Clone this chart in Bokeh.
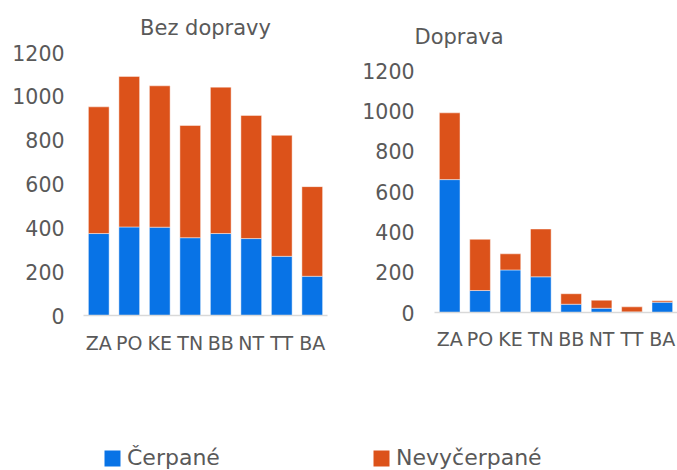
from bokeh.plotting import figure
from bokeh.layouts import column, row
from bokeh.models import FixedTicker, Legend, LegendItem, Range1d, ColumnDataSource
from bokeh.embed import file_html
from bokeh.resources import INLINE

categories = ["ZA", "PO", "KE", "TN", "BB", "NT", "TT", "BA"]
bez_cerpane = [374, 404, 403, 355, 374, 351, 270, 179]
bez_nevycerpane = [578, 687, 645, 512, 668, 562, 552, 409]
dop_cerpane = [659, 109, 211, 177, 41, 21, 3, 51]
dop_nevycerpane = [331, 254, 80, 237, 52, 40, 25, 7]
y_ticks = [0, 200, 400, 600, 800, 1000, 1200]
series_names = ["Čerpané", "Nevyčerpané"]
titles = ["Bez dopravy", "Doprava"]

BLUE = "#0873E6"
ORANGE = "#DC521A"
TEXT = "#595959"
FONT = "DejaVu Sans"


def make_chart(title, cer, nev, fw, fh, bl, br, bt, bb, talign, toffset,
               tstandoff, y_standoff, x_standoff):
    src = ColumnDataSource(dict(cat=categories, cer=cer, nev=nev))
    p = figure(x_range=categories, y_range=Range1d(0, 1200),
               frame_width=fw, frame_height=fh,
               output_backend="svg", toolbar_location=None,
               min_border_left=bl, min_border_right=br, min_border_top=bt,
               min_border_bottom=bb)
    if "frame_align" in p.properties():
        p.frame_align = False
    p.vbar_stack(["cer", "nev"], x="cat", width=0.68, source=src,
                 fill_color=[BLUE, ORANGE], line_color="white", line_alpha=0.45,
                 line_width=1)
    p.title.text = title
    p.title.align = talign
    p.title.offset = toffset
    p.title.standoff = tstandoff
    p.title.text_font = FONT
    p.title.text_font_size = "21px"
    p.title.text_font_style = "normal"
    p.title.text_color = TEXT
    p.yaxis.ticker = FixedTicker(ticks=y_ticks)
    p.yaxis.axis_line_color = None
    p.yaxis.major_tick_line_color = None
    p.yaxis.minor_tick_line_color = None
    p.yaxis.major_tick_out = 0
    p.yaxis.major_tick_in = 0
    p.yaxis.minor_tick_out = 0
    p.yaxis.major_label_text_font = FONT
    p.yaxis.major_label_text_font_size = "20.5px"
    p.yaxis.major_label_text_color = TEXT
    p.yaxis.major_label_standoff = y_standoff
    p.xaxis.axis_line_color = "#D9D9D9"
    p.xaxis.axis_line_width = 1.5
    p.xaxis.major_tick_line_color = None
    p.xaxis.minor_tick_line_color = None
    p.xaxis.major_tick_out = 0
    p.xaxis.major_tick_in = 0
    p.xaxis.minor_tick_out = 0
    p.xaxis.major_label_text_font = FONT
    p.xaxis.major_label_text_font_size = "19px"
    p.xaxis.major_label_text_color = TEXT
    p.xaxis.major_label_standoff = x_standoff
    p.xgrid.grid_line_color = None
    p.ygrid.grid_line_color = None
    p.outline_line_color = None
    return p


p1 = make_chart(titles[0], bez_cerpane, bez_nevycerpane, 244, 263,
                83, 13, 52, 47, "center", 0, 26, 19, 16)
p2 = make_chart(titles[1], dop_cerpane, dop_nevycerpane, 243, 242,
                94, 0, 70, 50, "left", -20, 44, 20, 15)

lf = figure(width=677, height=108, output_backend="svg", toolbar_location=None,
            min_border=0, x_range=(0, 1), y_range=(0, 1))
lf.axis.visible = False
lf.grid.grid_line_color = None
lf.outline_line_color = None
r1 = lf.vbar(x=[5], top=[5], width=0.1, fill_color=BLUE, line_color=None)
r2 = lf.vbar(x=[5], top=[5], width=0.1, fill_color=ORANGE, line_color=None)
for r, name, x in [(r1, series_names[0], 102), (r2, series_names[1], 371)]:
    leg = Legend(items=[LegendItem(label=name, renderers=[r])], location=(x, 0),
                 orientation="horizontal", glyph_width=20, glyph_height=20,
                 label_text_font=FONT, label_text_font_size="22px",
                 label_text_color=TEXT, border_line_color=None,
                 background_fill_alpha=0, padding=0, margin=0, label_standoff=5,
                 spacing=0)
    lf.add_layout(leg)

layout = column(row(p1, p2), lf)
open("out.html", "w").write(file_html(layout, INLINE))
